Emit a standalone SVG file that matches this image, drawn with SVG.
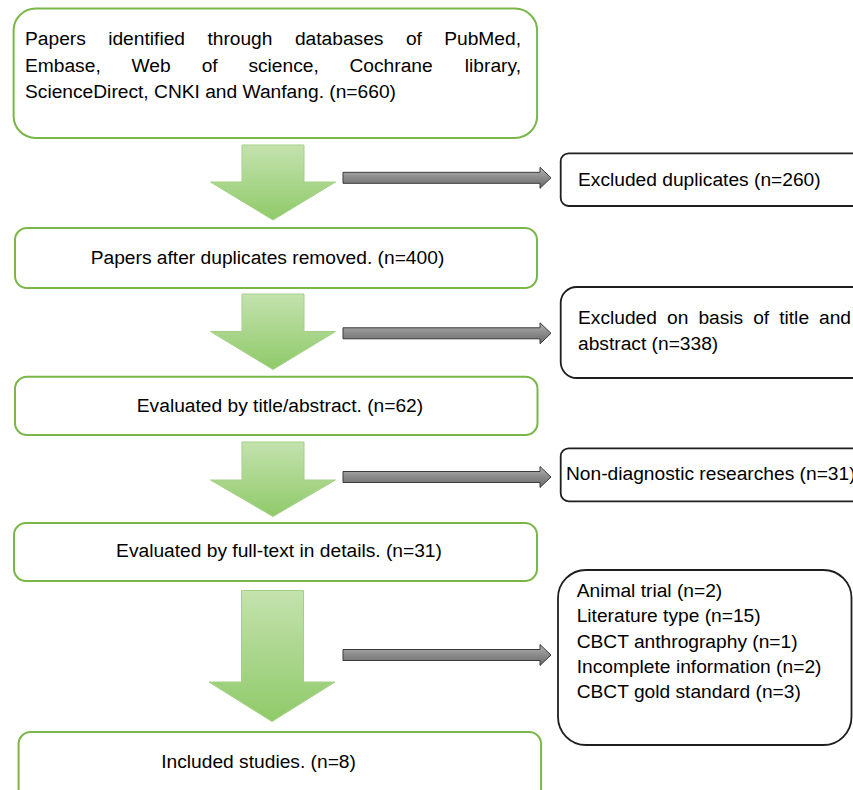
<svg xmlns="http://www.w3.org/2000/svg" width="853" height="790" viewBox="0 0 853 790">
<defs>
<style>
.t{font-family:"Liberation Sans",Arial,sans-serif;font-size:19.2px;fill:#000}
.gb{fill:#fff;stroke:#7ab648;stroke-width:2}
.kb{fill:#fff;stroke:#1e1e1e;stroke-width:1.8}
.ga{fill:url(#gg);stroke:#a3d184;stroke-width:1}
.ka{fill:url(#kg);stroke:#3a3a3a;stroke-width:1}
</style>
<linearGradient id="gg" x1="0" y1="0" x2="0" y2="1">
<stop offset="0" stop-color="#c4e2ae"/>
<stop offset="1" stop-color="#8fca69"/>
</linearGradient>
<linearGradient id="kg" x1="0" y1="0" x2="0" y2="1">
<stop offset="0" stop-color="#b4b4b4"/>
<stop offset="0.5" stop-color="#8a8a8a"/>
<stop offset="1" stop-color="#6a6a6a"/>
</linearGradient>
<path id="karrow" d="M343,-5.5 H540 V-10.5 L551,0 L540,10.5 V5.5 H343 Z"/>
</defs>

<g id="connectors">
<path class="ga" d="M242,145 H304 V182 H335.5 L273,220 L210.5,182 H242 Z"/>
<path class="ga" d="M242,294 H304 V331.5 H335.5 L273,369.5 L210.5,331.5 H242 Z"/>
<path class="ga" d="M242,442 H304 V480 H335.5 L273,516.5 L210.5,480 H242 Z"/>
<path class="ga" d="M241.5,590.5 H303.5 V682 H335 L272,721.5 L209,682 H241.5 Z"/>
<use href="#karrow" class="ka" transform="translate(0,177.8)"/>
<use href="#karrow" class="ka" transform="translate(0,333.3)"/>
<use href="#karrow" class="ka" transform="translate(0,477)"/>
<use href="#karrow" class="ka" transform="translate(0,655)"/>
</g>

<g id="n1">
<rect class="gb" x="13.6" y="8.5" width="523.5" height="129.5" rx="22"/>
<text class="t" y="45"><tspan x="25">Papers</tspan><tspan x="108.2">identified</tspan><tspan x="207.4">through</tspan><tspan x="294.9">databases</tspan><tspan x="405.9">of</tspan><tspan x="521" text-anchor="end">PubMed,</tspan></text>
<text class="t" y="72"><tspan x="25">Embase,</tspan><tspan x="131.5">Web</tspan><tspan x="201.7">of</tspan><tspan x="248.4">science,</tspan><tspan x="349.5">Cochrane</tspan><tspan x="521" text-anchor="end">library,</tspan></text>
<text class="t" x="25" y="97.5">ScienceDirect, CNKI and Wanfang. (n=660)</text>
</g>

<g id="n2">
<rect class="gb" x="15" y="228" width="522" height="60" rx="12"/>
<text class="t" x="267.5" y="263.5" text-anchor="middle">Papers after duplicates removed. (n=400)</text>
</g>

<g id="n3">
<rect class="gb" x="15" y="376.7" width="522.5" height="58.3" rx="12"/>
<text class="t" x="280" y="411.7" text-anchor="middle">Evaluated by title/abstract. (n=62)</text>
</g>

<g id="n4">
<rect class="gb" x="14" y="523" width="523" height="58" rx="12"/>
<text class="t" x="279" y="557" text-anchor="middle">Evaluated by full-text in details. (n=31)</text>
</g>

<g id="n5">
<rect class="gb" x="18.6" y="732" width="522.5" height="80" rx="12"/>
<text class="t" x="258.6" y="768" text-anchor="middle">Included studies. (n=8)</text>
</g>

<g id="r1">
<rect class="kb" x="560.7" y="153.3" width="320" height="52.7" rx="8"/>
<text class="t" x="578" y="186">Excluded duplicates (n=260)</text>
</g>

<g id="r2">
<rect class="kb" x="560.7" y="287" width="320" height="91" rx="16"/>
<text class="t" y="324"><tspan x="578">Excluded</tspan><tspan x="667">on</tspan><tspan x="698.4">basis</tspan><tspan x="753.2">of</tspan><tspan x="779.2">title</tspan><tspan x="851" text-anchor="end">and</tspan></text>
<text class="t" x="578" y="350">abstract (n=338)</text>
</g>

<g id="r3">
<rect class="kb" x="560.7" y="448.3" width="320" height="53" rx="8"/>
<text class="t" x="566" y="480">Non-diagnostic researches (n=31)</text>
</g>

<g id="r4">
<rect class="kb" x="558" y="570" width="293.5" height="175" rx="28"/>
<text class="t" x="576.7" y="596.7">Animal trial (n=2)</text>
<text class="t" x="576.7" y="622.3">Literature type (n=15)</text>
<text class="t" x="576.7" y="647.7">CBCT anthrography (n=1)</text>
<text class="t" x="576.7" y="673.3">Incomplete information (n=2)</text>
<text class="t" x="576.7" y="698.3">CBCT gold standard (n=3)</text>
</g>
</svg>
